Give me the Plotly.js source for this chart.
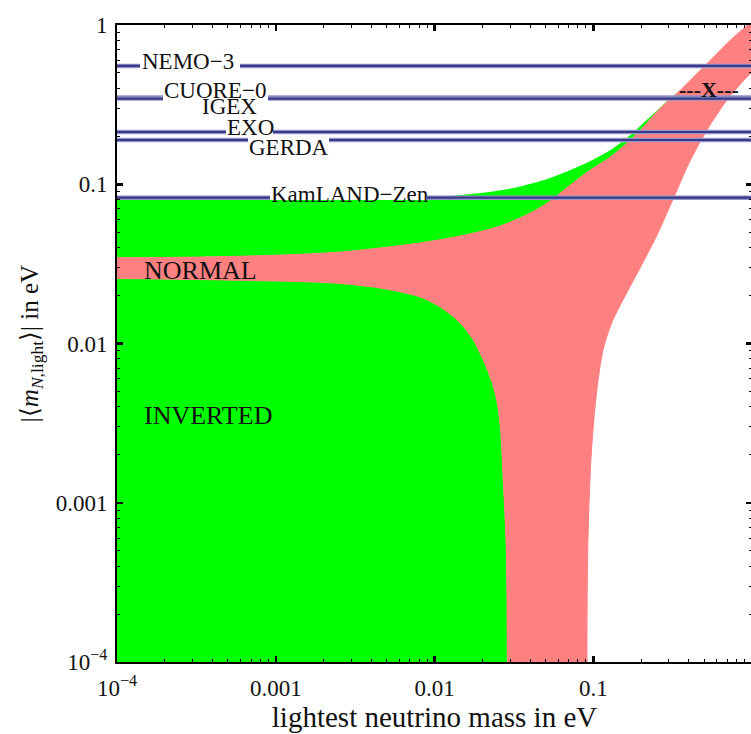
<!DOCTYPE html>
<html>
<head>
<meta charset="utf-8">
<script src="https://cdn.plot.ly/plotly-3.0.1.min.js"></script>
<style>
html,body{margin:0;padding:0;overflow:hidden;background:#fff;}
#plot{width:756px;height:734px;}
</style>
</head>
<body>
<div id="plot"></div>
<script>
// ---------------- data ----------------
// inverted hierarchy: upper boundary of the upper green band
var invUpperX = [5e-5, 0.001425, 0.00608, 0.01259, 0.01945, 0.0314, 0.0514, 0.0718, 0.096, 0.1284, 0.1716, 0.2072, 0.254, 0.3067, 0.3547];
var invUpperY = [0.0808, 0.0808, 0.0808, 0.0844, 0.0881, 0.0947, 0.1079, 0.1229, 0.140, 0.1641, 0.2038, 0.2424, 0.2925, 0.3479, 0.3907];
// inverted hierarchy: upper boundary of the lower green region (drops to zero)
var invLowerX = [5e-5, 0.000539, 0.0023, 0.00455, 0.00813, 0.01088, 0.01455, 0.01756, 0.0203, 0.02314, 0.02489, 0.026, 0.02716, 0.02836, 0.02877, 0.02877];
var invLowerY = [0.0258, 0.0250, 0.02399, 0.02231, 0.01959, 0.01695, 0.01345, 0.01052, 0.00788, 0.00565, 0.00423, 0.00299, 0.00133, 0.000505, 1e-4, 6e-5];
// normal hierarchy: upper / left edge of the pink band
var normUpperX = [5e-5, 0.000334, 0.001066, 0.002547, 0.004551, 0.00813, 0.01455, 0.026, 0.0402, 0.0514, 0.0718, 0.096, 0.1284, 0.1716, 0.2072, 0.2653, 0.3547, 0.4539, 0.5727, 0.7328, 0.938, 1.2, 1.5];
var normUpperY = [0.0344, 0.0349, 0.0359, 0.0375, 0.0398, 0.0428, 0.0473, 0.0547, 0.066, 0.0762, 0.0989, 0.1229, 0.1483, 0.1896, 0.2289, 0.3012, 0.3907, 0.4995, 0.6296, 0.805, 1.0, 1.25, 1.25];
// normal hierarchy: right edge of the pink band (top to bottom)
var normRightX = [1.396, 0.930, 0.696, 0.5205, 0.401, 0.3226, 0.2485, 0.197, 0.1562, 0.1313, 0.1152, 0.1048, 0.0975, 0.0934, 0.0917, 0.0913, 0.0913];
var normRightY = [0.697, 0.4716, 0.338, 0.219, 0.136, 0.0832, 0.0466, 0.0298, 0.0193, 0.01365, 0.0091, 0.00489, 0.002144, 0.000814, 0.000313, 1e-4, 6e-5];
// experimental limits
var limitNames  = ["NEMO−3", "CUORE−0", "IGEX", "EXO", "GERDA", "KamLAND−Zen"];
var limitValues = [0.553, 0.3505, 0.345, 0.2129, 0.1896, 0.0823];
// axes
var axisMin = 1e-4, axisMax = 1;
var xTickVals = [1e-4, 1e-3, 1e-2, 1e-1, 1];
var xTickText = ["10<sup>−4</sup>", "0.001", "0.01", "0.1", "1"];
var yTickVals = [1e-4, 1e-3, 1e-2, 1e-1, 1];
var yTickText = ["10<sup>−4</sup>", "0.001", "0.01", "0.1", "1"];

// --------------- build ---------------
var minorVals = [];
for (var k = -4; k < 0; k++) for (var m = 2; m <= 9; m++) minorVals.push(m * Math.pow(10, k));

var GREEN = '#00ff00', PINK = '#ff8080';
var traces = [];

// upper green band: inverted upper boundary, then the pink top edge back to the left
var nMerge = normUpperX.indexOf(invUpperX[invUpperX.length - 1]);
var bandX = invUpperX.concat(normUpperX.slice(0, nMerge).reverse());
var bandY = invUpperY.concat(normUpperY.slice(0, nMerge).reverse());
traces.push({x: bandX, y: bandY, type: 'scatter', mode: 'lines', fill: 'toself', fillcolor: GREEN,
  line: {width: 0, color: GREEN, shape: 'spline', smoothing: 0.8}, hoverinfo: 'skip'});

// lower green region
var edge = invLowerY[invLowerY.length - 1];
var lowX = invLowerX.concat([invLowerX[0]]);
var lowY = invLowerY.concat([edge]);
traces.push({x: lowX, y: lowY, type: 'scatter', mode: 'lines', fill: 'toself', fillcolor: GREEN,
  line: {width: 0, color: GREEN, shape: 'spline', smoothing: 0.8}, hoverinfo: 'skip'});

// pink normal-hierarchy band
var pinkX = normUpperX.concat(normRightX, invLowerX.slice().reverse());
var pinkY = normUpperY.concat(normRightY, invLowerY.slice().reverse());
traces.push({x: pinkX, y: pinkY, type: 'scatter', mode: 'lines', fill: 'toself', fillcolor: PINK,
  line: {width: 1, color: PINK, shape: 'spline', smoothing: 0.8}, hoverinfo: 'skip'});

// limit lines
limitValues.forEach(function (v, i) {
  traces.push({x: [axisMin, axisMax], y: [v, v], type: 'scatter', mode: 'lines', line: {color: '#9494cc', width: 4.5}, hoverinfo: 'skip', name: limitNames[i]});
  traces.push({x: [axisMin, axisMax], y: [v, v], type: 'scatter', mode: 'lines', line: {color: '#3a3a86', width: 2.2}, hoverinfo: 'skip', name: limitNames[i]});
});

// pixel helpers for label placement (plot area: x 117..752, y 25..662)
function pxX(px) { return (px - 117) / 635; }
function pxY(py) { return (662 - py) / 637; }

function gap(x0, x1, y0, y1) {
  return {type: 'rect', xref: 'paper', yref: 'paper', x0: pxX(x0), x1: pxX(x1), y0: pxY(y1), y1: pxY(y0), fillcolor: '#ffffff', line: {width: 0}, layer: 'above'};
}
var shapes = [
  gap(140, 240, 62, 70),
  gap(163, 268, 93, 102),
  gap(226, 273, 128, 136),
  gap(248, 329, 136.5, 144),
  gap(270, 427, 194, 200)
];

function lab(text, px, py, size, bold) {
  return {text: bold ? '<b>' + text + '</b>' : text, xref: 'paper', yref: 'paper', x: pxX(px), y: pxY(py), xanchor: 'left', yanchor: 'middle', showarrow: false,
    font: {size: size, color: '#111', family: 'Liberation Serif, Times New Roman, serif'}};
}
var annotations = [
  lab(limitNames[0], 140, 61, 23),
  lab(limitNames[1], 162, 90, 23),
  lab(limitNames[2], 200, 107, 23),
  lab(limitNames[3], 225, 128, 23),
  lab(limitNames[4], 247, 147, 23),
  lab(limitNames[5], 269, 195, 23),
  lab('NORMAL', 142, 270, 26),
  lab('INVERTED', 142, 415, 26),
  lab('---X---', 677, 89, 22, true)
];

var axisCommon = {
  type: 'log', range: [-4, 0], showgrid: false, zeroline: false,
  showline: true, linecolor: '#000', linewidth: 2, mirror: 'ticks',
  ticks: 'inside', ticklen: 6, tickwidth: 2.5, tickcolor: '#000',
  minor: {tickvals: minorVals, ticks: 'inside', ticklen: 3, tickwidth: 1, tickcolor: '#000', showgrid: false},
  tickfont: {size: 23, color: '#111', family: 'Liberation Serif, Times New Roman, serif'},
  tickmode: 'array'
};

var layout = {
  width: 756, height: 734,
  margin: {l: 117, r: 4, t: 25, b: 72},
  paper_bgcolor: '#fff', plot_bgcolor: '#fff',
  showlegend: false,
  font: {family: 'Liberation Serif, Times New Roman, serif', color: '#111'},
  xaxis: Object.assign({}, axisCommon, {
    tickvals: xTickVals, ticktext: xTickText, ticklabelstandoff: 4,
    title: {text: 'lightest neutrino mass in eV\u00a0\u00a0\u00a0\u00a0', font: {size: 29}, standoff: 6}
  }),
  yaxis: Object.assign({}, axisCommon, {
    tickvals: yTickVals, ticktext: yTickText, ticklabelstandoff: 3,
    title: {text: '|⟨<i>m</i><sub><i>N</i>,light</sub>⟩| in eV\u00a0', font: {size: 25}, standoff: 10}
  }),
  shapes: shapes,
  annotations: annotations
};

Plotly.newPlot('plot', traces, layout, {staticPlot: true, displayModeBar: false});
</script>
</body>
</html>
